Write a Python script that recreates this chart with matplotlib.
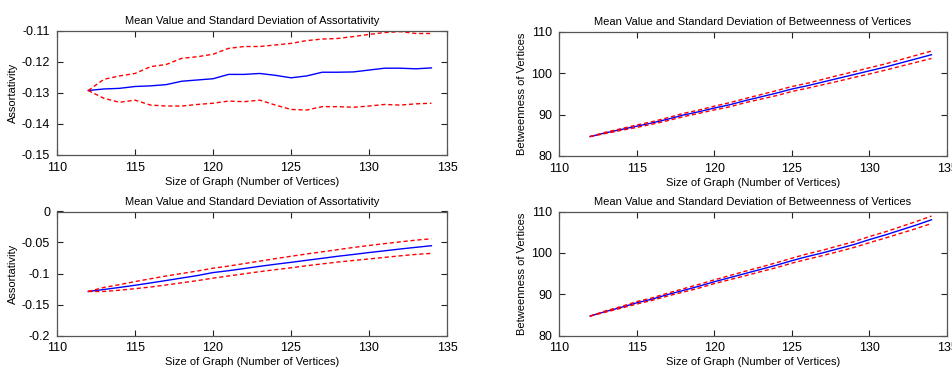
import matplotlib
matplotlib.use("Agg")
import matplotlib.pyplot as plt
import numpy as np

plt.rcParams['font.family'] = ['Liberation Sans', 'DejaVu Sans']

# graph sizes (number of vertices)
sizes = list(range(112, 135))

# top left: assortativity
assort1_mean = [-0.1292, -0.1287, -0.1285, -0.1279, -0.1277, -0.1273, -0.1262, -0.1258, -0.1254,
                -0.1240, -0.1240, -0.1237, -0.1243, -0.1251, -0.1245, -0.1233, -0.1233, -0.1232,
                -0.1226, -0.1220, -0.1220, -0.1222, -0.1219]
assort1_upper = [-0.1292, -0.1256, -0.1245, -0.1237, -0.1215, -0.1208, -0.1188, -0.1183, -0.1175,
                 -0.1156, -0.1150, -0.1150, -0.1145, -0.1140, -0.1131, -0.1126, -0.1124, -0.1118,
                 -0.1111, -0.1105, -0.1102, -0.1108, -0.1108]
assort1_lower = [-0.1292, -0.1317, -0.1330, -0.1323, -0.1339, -0.1342, -0.1342, -0.1337, -0.1333,
                 -0.1326, -0.1328, -0.1323, -0.1339, -0.1353, -0.1355, -0.1344, -0.1344, -0.1346,
                 -0.1342, -0.1337, -0.1339, -0.1335, -0.1333]

# bottom left: assortativity
assort2_mean = [-0.1290, -0.1258, -0.1225, -0.1190, -0.1152, -0.1113, -0.1073, -0.1033, -0.0985,
                -0.0955, -0.0920, -0.0884, -0.0851, -0.0820, -0.0787, -0.0755, -0.0722, -0.0693,
                -0.0662, -0.0634, -0.0605, -0.0578, -0.0552]
assort2_upper = [-0.1290, -0.1225, -0.1180, -0.1130, -0.1085, -0.1040, -0.1000, -0.0960, -0.0915,
                 -0.0880, -0.0840, -0.0800, -0.0760, -0.0722, -0.0685, -0.0650, -0.0615, -0.0580,
                 -0.0548, -0.0518, -0.0490, -0.0462, -0.0440]
assort2_lower = [-0.1290, -0.1290, -0.1270, -0.1245, -0.1218, -0.1185, -0.1150, -0.1115, -0.1075,
                 -0.1040, -0.1005, -0.0970, -0.0938, -0.0908, -0.0875, -0.0845, -0.0815, -0.0790,
                 -0.0765, -0.0740, -0.0715, -0.0692, -0.0675]

# top right: betweenness
betw1_mean = [84.7, 85.6, 86.4, 87.2, 88.0, 88.9, 89.9, 90.7, 91.6, 92.4, 93.4, 94.3, 95.2,
              96.2, 97.0, 97.9, 98.8, 99.7, 100.6, 101.5, 102.5, 103.5, 104.5]
betw1_std = [0.0, 0.15, 0.2, 0.3, 0.3, 0.35, 0.4, 0.4, 0.45, 0.5, 0.5, 0.55, 0.6,
             0.6, 0.6, 0.65, 0.7, 0.7, 0.75, 0.75, 0.8, 0.85, 0.9]

# bottom right: betweenness
betw2_mean = [84.7, 85.8, 86.8, 87.9, 88.8, 89.9, 90.9, 91.9, 93.0, 94.0, 95.0, 96.0, 97.0,
              98.1, 99.1, 100.0, 101.0, 102.0, 103.2, 104.3, 105.5, 106.7, 108.0]
betw2_std = [0.0, 0.15, 0.2, 0.3, 0.3, 0.35, 0.4, 0.45, 0.45, 0.5, 0.55, 0.55, 0.6,
             0.6, 0.65, 0.65, 0.7, 0.7, 0.75, 0.75, 0.8, 0.85, 0.9]

fig = plt.figure(figsize=(9.53, 3.70), dpi=100)

boxes = [
    [57 / 953, 1 - 155 / 370, 390 / 953, 124 / 370],
    [559 / 953, 1 - 156 / 370, 388 / 953, 124 / 370],
    [57 / 953, 1 - 335.5 / 370, 390 / 953, 124 / 370],
    [559 / 953, 1 - 335.5 / 370, 388 / 953, 124 / 370],
]

betw1_mean = np.array(betw1_mean)
betw2_mean = np.array(betw2_mean)

panels = [
    (assort1_mean, assort1_upper, assort1_lower, 'Assortativity',
     'Mean Value and Standard Deviation of Assortativity', (-0.15, -0.11),
     [-0.15, -0.14, -0.13, -0.12, -0.11], ['-0.15', '-0.14', '-0.13', '-0.12', '-0.11']),
    (betw1_mean, betw1_mean + np.array(betw1_std), betw1_mean - np.array(betw1_std),
     'Betweenness of Vertices', 'Mean Value and Standard Deviation of Betweenness of Vertices',
     (80, 110), [80, 90, 100, 110], ['80', '90', '100', '110']),
    (assort2_mean, assort2_upper, assort2_lower, 'Assortativity',
     'Mean Value and Standard Deviation of Assortativity', (-0.2, 0),
     [-0.2, -0.15, -0.1, -0.05, 0], ['-0.2', '-0.15', '-0.1', '-0.05', '0']),
    (betw2_mean, betw2_mean + np.array(betw2_std), betw2_mean - np.array(betw2_std),
     'Betweenness of Vertices', 'Mean Value and Standard Deviation of Betweenness of Vertices',
     (80, 110), [80, 90, 100, 110], ['80', '90', '100', '110']),
]

for box, (m, up, lo, ylab, title, ylim, yt, ytl) in zip(boxes, panels):
    ax = fig.add_axes(box)
    ax.plot(sizes, m, color='blue', linewidth=1)
    ax.plot(sizes, up, color='red', linewidth=1, linestyle=(0, (3, 2)))
    ax.plot(sizes, lo, color='red', linewidth=1, linestyle=(0, (3, 2)))
    ax.set_xlim(110, 135)
    ax.set_ylim(*ylim)
    ax.set_xticks([110, 115, 120, 125, 130, 135])
    ax.set_yticks(yt)
    ax.set_yticklabels(ytl)
    ax.tick_params(direction='in', top=True, right=True, length=4, width=0.8,
                   labelsize=9, pad=5, color='#222222')
    for s in ax.spines.values():
        s.set_color('#555555')
        s.set_linewidth(0.9)
    ax.set_title(title, fontsize=8, pad=5)
    ax.set_xlabel('Size of Graph (Number of Vertices)', fontsize=8, labelpad=2)
    ax.set_ylabel(ylab, fontsize=8, labelpad=3)

fig.savefig('out.png', dpi=100)
